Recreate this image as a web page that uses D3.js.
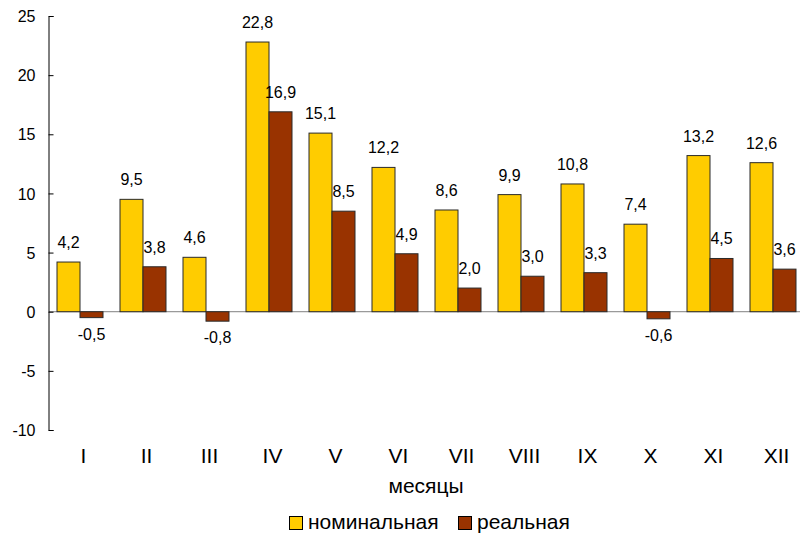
<!DOCTYPE html>
<html>
<head>
<meta charset="utf-8">
<script src="https://d3js.org/d3.v7.min.js"></script>
<style>
  body { margin: 0; background: #fff; }
  text { font-family: "Liberation Sans", Arial, sans-serif; fill: #000; }
</style>
</head>
<body>
<svg width="803" height="541"></svg>
<script>
const months = ["I", "II", "III", "IV", "V", "VI", "VII", "VIII", "IX", "X", "XI", "XII"];
const nominal = [4.2, 9.5, 4.6, 22.8, 15.1, 12.2, 8.6, 9.9, 10.8, 7.4, 13.2, 12.6];
const real = [-0.5, 3.8, -0.8, 16.9, 8.5, 4.9, 2.0, 3.0, 3.3, -0.6, 4.5, 3.6];
const seriesNames = ["номинальная", "реальная"];
const yTicks = [-10, -5, 0, 5, 10, 15, 20, 25];

const colors = ["#ffcc00", "#993300"];
const svg = d3.select("svg");

var x0 = d3.scaleBand().domain(months).range([49, 805]);
var x1 = d3.scaleBand().domain(seriesNames).range([8, 54]);
var y = d3.scaleLinear().domain([-10, 25]).range([430, 16]);

const rows = months.map((m, i) => ({ month: m, vals: [nominal[i], real[i]] }));

// zero line
svg.append("line")
  .attr("x1", 49).attr("x2", 800)
  .attr("y1", y(0)).attr("y2", y(0))
  .attr("stroke", "#808080").attr("stroke-width", 1);

// y axis, ticks pointing inside
var yAxis = svg.append("g")
  .attr("transform", "translate(48.5,0)")
  .call(d3.axisRight(y).tickValues(yTicks).tickSize(5).tickFormat(""));
yAxis.select(".domain").attr("stroke", "#000");
yAxis.selectAll(".tick line").attr("stroke", "#000");
yAxis.selectAll(".tick").append("text")
  .attr("x", -13).attr("dy", "0.35em")
  .attr("text-anchor", "end")
  .style("font-size", "16px")
  .text(d => d);

// bars
var groups = svg.selectAll(".grp").data(rows).enter().append("g")
  .attr("transform", d => "translate(" + x0(d.month) + ",0)");

groups.selectAll("rect")
  .data(d => d.vals.map((v, k) => ({ key: seriesNames[k], v: v, k: k })))
  .enter().append("rect")
  .attr("x", d => x1(d.key))
  .attr("width", x1.bandwidth())
  .attr("y", d => y(Math.max(0, d.v)))
  .attr("height", d => Math.abs(y(d.v) - y(0)))
  .attr("fill", d => colors[d.k])
  .attr("stroke", "#2a2a2a")
  .attr("stroke-width", 1);

groups.selectAll(".lbl")
  .data(d => d.vals.map((v, k) => ({ key: seriesNames[k], v: v, k: k })))
  .enter().append("text")
  .attr("x", d => x1(d.key) + x1.bandwidth() / 2)
  .attr("y", d => d.v >= 0 ? y(d.v) - 14 : y(d.v) + 22)
  .attr("text-anchor", "middle")
  .style("font-size", "16px")
  .text(d => d.v.toFixed(1).replace(".", ","));

// month labels
svg.selectAll(".mlbl").data(months).enter().append("text")
  .attr("x", d => x0(d) + x0.bandwidth() / 2 + 3)
  .attr("y", 463)
  .attr("text-anchor", "middle")
  .style("font-size", "21px")
  .text(d => d);

svg.append("text")
  .attr("x", 426).attr("y", 493)
  .attr("text-anchor", "middle")
  .style("font-size", "21px")
  .text("месяцы");

// legend
var legX = [289, 458];
seriesNames.forEach((s, k) => {
  svg.append("rect")
    .attr("x", legX[k] + 0.5).attr("y", 516.5)
    .attr("width", 13).attr("height", 13)
    .attr("fill", colors[k]).attr("stroke", "#000");
  svg.append("text")
    .attr("x", legX[k] + 19).attr("y", 529)
    .style("font-size", "21px")
    .text(s);
});
</script>
</body>
</html>
